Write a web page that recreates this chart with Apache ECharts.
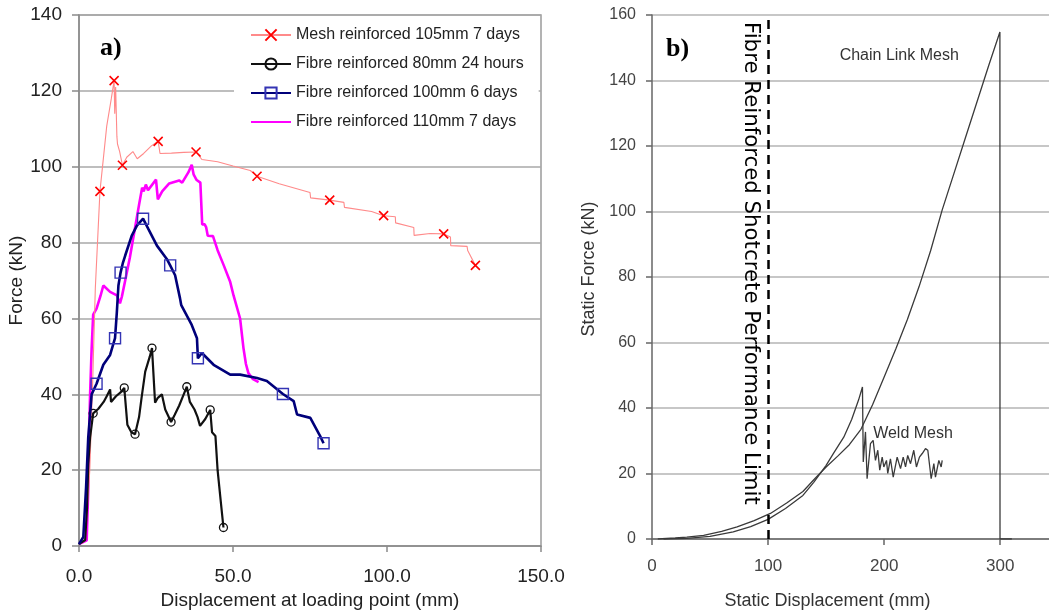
<!DOCTYPE html>
<html><head><meta charset="utf-8">
<script src="https://cdn.jsdelivr.net/npm/echarts@6/dist/echarts.min.js"></script>
<style>html,body{margin:0;padding:0;background:#fff}#c{width:1049px;height:615px}</style>
</head><body><div id="c"></div>
<script>
// ---------- Panel a) data ----------
const seriesNames = ['Mesh reinforced 105mm 7 days','Fibre reinforced 80mm 24 hours','Fibre reinforced 100mm 6 days','Fibre reinforced 110mm 7 days'];
const meshLine = [[0,0.5],[2,1.5],[3.5,20],[4.5,45],[5.3,68],[6.8,93.5],[9,110.7],[10.5,118],[11.4,122.7],[11.6,114],[11.9,121],[12.3,108],[12.5,106],[13.2,104],[14.1,100.4],[15.5,102.5],[17.5,104],[18.9,102.1],[21,103.5],[23.5,105.5],[25.7,106.7],[26.3,103.5],[30,103.6],[34,103.8],[38,103.9],[39.9,101.9],[45,101.3],[50,100.2],[55.6,99],[57.8,97.5],[65,95.5],[75,93.2],[75.2,91.8],[81.4,91.2],[86,90.6],[86.2,89.3],[95,88.2],[98.9,87.1],[102.7,86.8],[102.8,85.2],[108.7,84],[108.8,81.9],[114,82.4],[118.4,82.3],[120.6,81.5],[120.7,79.2],[126,79],[126.2,77.9],[128.7,74]];
const meshMarkers = [[6.8,93.5],[11.4,122.7],[14.1,100.4],[25.7,106.7],[38,103.9],[57.8,97.5],[81.4,91.2],[98.9,87.1],[118.4,82.3],[128.7,74]];
const fibre80Line = [[0,0.5],[2,1.6],[2.6,10],[3,21.6],[3.6,28.6],[4.6,35],[6.3,36.2],[8,38],[9,39.5],[10.1,41.3],[10.4,38],[12,39.5],[13.5,40.5],[14.7,41.7],[15.7,32],[17,30],[18.2,29.5],[19.5,34],[20.3,39],[21.5,46],[23,50],[23.7,52.2],[24.7,37.8],[25.5,39],[26.9,40],[28,36],[29.9,32.7],[31,34.5],[32.5,37],[34,40],[35,42],[36,38],[37.5,36],[38.5,34],[39.3,31.7],[41,33.5],[42.6,35.9],[43.2,30],[44.3,29],[45,20],[46,12],[46.9,4.9]];
const fibre80Markers = [[4.6,35],[14.7,41.7],[18.2,29.5],[23.7,52.2],[29.9,32.7],[35,42],[42.6,35.9],[46.9,4.9]];
const fibre100Line = [[0,0.5],[1.4,2.4],[2.3,15.5],[3,28.6],[4.1,40],[5.7,42.8],[7.9,47.8],[10.1,50.4],[11.7,54.8],[12.3,61.8],[12.8,68.7],[13.5,72.1],[14.2,74.5],[15,76.6],[17.1,81.8],[18.8,84.5],[20.8,86.3],[22.5,83.6],[25.3,79.2],[28.5,75.7],[29.6,74],[31.2,71.4],[32.8,65.3],[33.2,63.5],[36.6,58.3],[38.3,54.8],[38.6,49.5],[39.9,50.9],[43.7,47.8],[49.1,45.2],[52.3,45.2],[57.8,44.3],[61,43.5],[66.2,40.1],[69.7,38.2],[70.8,34.7],[75.1,33.8],[78.3,29],[79.4,27.1]];
const fibre100Markers = [[5.7,42.8],[11.7,54.8],[13.5,72.1],[20.8,86.3],[29.6,74],[38.6,49.5],[66.2,40.1],[79.4,27.1]];
const fibre110Line = [[0,0.5],[2.5,1.5],[3,15],[3.3,30],[3.6,40],[4.1,52],[4.6,61],[5.7,62.6],[7,66],[7.9,68.7],[8.5,68.5],[10.1,67],[12.3,66.1],[13.3,64],[13.9,65.7],[15,70],[16.5,76],[18,83],[19.5,90],[20.5,94.5],[21,93.5],[21.7,95.3],[22.4,93.8],[25,96.6],[25.6,91.4],[27,93.5],[29.3,95.6],[32.5,96.4],[33.5,95.8],[35.5,98.5],[36.6,100.5],[37.2,98],[38.2,96.5],[39.4,95.8],[40,84.8],[40.8,84.8],[41.3,84],[41.8,81.8],[43.5,81.7],[45,78],[47,74],[49.1,69.6],[50.2,66],[52.3,60],[53.4,52.2],[54.2,48],[55,45.6],[56.5,44],[58.3,43.2]];

// ---------- Panel b) data ----------
const chainLinkLine = [[5,0],[20,0.3],[30,0.6],[44.5,1.1],[60,2.3],[73.3,3.7],[88,5.6],[102,7.8],[116,11],[130,14.5],[140,18.3],[150,22],[160,25.3],[170,28.8],[180,33.5],[190,41],[200,49.5],[210,58],[220,67],[230,77],[240,88],[250,100.5],[260,111.5],[270,122.5],[280,133.5],[290,144.5],[299.7,154.8],[299.8,0],[310,0]];
const weldLine = [[10,0],[30,0.2],[50,0.8],[70,2.2],[85,3.8],[100,6],[115,9.3],[130,13.3],[139.3,17.3],[150,22.5],[156.6,26.3],[165.2,31.1],[172,36.5],[178,42.5],[181.3,46.4],[182,23.5],[183.9,32.7],[185.3,18.4],[188.2,29.1],[190.5,30.1],[192.5,24],[194.5,27.1],[196.2,21],[198.3,25],[199.7,22],[202,24],[203.1,20],[205.4,24.5],[207.8,18.9],[211.2,25],[214.1,21.5],[216.4,25],[218.4,22],[220.3,25.5],[222.7,23],[225.5,27.1],[227.8,22],[230.4,25],[232.8,26.1],[235.6,27.6],[237.6,27.1],[240.5,18.4],[242.8,23],[244.2,18.9],[247.1,24],[249.1,22],[250,24]];
const perfLimit = 100;
const perfLimitText = 'Fibre Reinforced Shotcrete Performance Limit';
const curveLabels = [{text:'Chain Link Mesh', at:[213,147.6], align:'center'},{text:'Weld Mesh', at:[190.5,32.2], align:'left'}];

function withMarkers(line, markers){
  return line.map(p => markers.some(q => q[0]===p[0] && q[1]===p[1]) ? {value:p} : {value:p, symbol:'none'});
}

const SANS = '"Liberation Sans", Arial, sans-serif';
const chart = echarts.init(document.getElementById('c'), null, {renderer:'canvas'});

const option = {
  animation:false,
  backgroundColor:'#fff',
  grid:[
    {left:79, top:15, right:508, bottom:66, show:true, borderColor:'#9a9a9a', borderWidth:1.5, backgroundColor:'transparent'},
    {left:652, top:15, right:0, bottom:76}
  ],
  legend:{
    orient:'vertical', left:234, top:20, padding:[7,15,11,16],
    backgroundColor:'#fff', itemWidth:40, itemHeight:14, itemGap:13,
    textStyle:{fontFamily:SANS, fontSize:16, color:'#222'},
    data:seriesNames
  },
  xAxis:[
    {gridIndex:0, type:'value', min:0, max:150, interval:50,
     name:'Displacement at loading point (mm)', nameLocation:'middle', nameGap:44,
     nameTextStyle:{fontFamily:SANS, fontSize:19, color:'#222'},
     axisLine:{lineStyle:{color:'#8a8a8a', width:1.5}},
     axisTick:{length:6, lineStyle:{color:'#8a8a8a', width:1.5}},
     axisLabel:{margin:21, fontFamily:SANS, fontSize:19, color:'#222', formatter:v=>v.toFixed(1)},
     splitLine:{show:false}},
    {gridIndex:1, type:'value', min:0, max:342, interval:100,
     name:'Static Displacement (mm)', nameLocation:'middle', nameGap:53,
     nameTextStyle:{fontFamily:SANS, fontSize:18, color:'#333', padding:[0,46,0,0]},
     axisLine:{lineStyle:{color:'#666', width:1.5}},
     axisTick:{length:6, lineStyle:{color:'#666', width:1.5}},
     axisLabel:{margin:19, fontFamily:SANS, fontSize:17, color:'#444', showMaxLabel:false,
       formatter:v=> (v % 100 === 0 ? String(v) : '')},
     splitLine:{show:false}}
  ],
  yAxis:[
    {gridIndex:0, type:'value', min:0, max:140, interval:20,
     name:'Force (kN)', nameLocation:'middle', nameGap:47,
     nameTextStyle:{fontFamily:SANS, fontSize:19, color:'#222'},
     axisLine:{show:true, lineStyle:{color:'#8a8a8a', width:1.5}},
     axisTick:{show:true, length:7, lineStyle:{color:'#8a8a8a', width:1.5}},
     axisLabel:{margin:17, fontFamily:SANS, fontSize:19, color:'#222'},
     splitLine:{lineStyle:{color:'#a8a8a8', width:1.5}}},
    {gridIndex:1, type:'value', min:0, max:160, interval:20,
     name:'Static Force (kN)', nameLocation:'middle', nameGap:54,
     nameTextStyle:{fontFamily:SANS, fontSize:18, color:'#333', padding:[0,0,0,16]},
     axisLine:{show:true, lineStyle:{color:'#666', width:1.5}},
     axisTick:{show:true, length:6, lineStyle:{color:'#666', width:1.5}},
     axisLabel:{margin:16, fontFamily:SANS, fontSize:16, color:'#444'},
     splitLine:{lineStyle:{color:'#b4b4b4', width:1.5}}}
  ],
  series:[
    {name:seriesNames[0], type:'line', xAxisIndex:0, yAxisIndex:0, z:3,
     data:withMarkers(meshLine, meshMarkers),
     symbol:'path://M0,0L10,10M10,0L0,10', symbolSize:9, showSymbol:true, showAllSymbol:true,
     lineStyle:{color:'#ff8a8a', width:1.1},
     itemStyle:{color:'#ff0000', borderColor:'#ff0000', borderWidth:1.6}},
    {name:seriesNames[1], type:'line', xAxisIndex:0, yAxisIndex:0, z:4,
     data:withMarkers(fibre80Line, fibre80Markers),
     symbol:'circle', symbolSize:8, showSymbol:true, showAllSymbol:true,
     lineStyle:{color:'#111', width:2.2},
     itemStyle:{color:'rgba(255,255,255,0)', borderColor:'#111', borderWidth:1.3}},
    {name:seriesNames[2], type:'line', xAxisIndex:0, yAxisIndex:0, z:5,
     data:withMarkers(fibre100Line, fibre100Markers),
     symbol:'path://M0,0H10V10H0Z', symbolSize:11, showSymbol:true, showAllSymbol:true,
     lineStyle:{color:'#00007a', width:2.6},
     itemStyle:{color:'rgba(255,255,255,0)', borderColor:'#3434b4', borderWidth:1.4}},
    {name:seriesNames[3], type:'line', xAxisIndex:0, yAxisIndex:0, z:2,
     data:fibre110Line, symbol:'circle', showSymbol:false,
     lineStyle:{color:'#ff00ff', width:2.6},
     itemStyle:{color:'rgba(0,0,0,0)', borderColor:'rgba(0,0,0,0)', borderWidth:0}},
    {name:'Chain Link Mesh', type:'line', xAxisIndex:1, yAxisIndex:1,
     data:chainLinkLine, symbol:'none', showSymbol:false,
     lineStyle:{color:'#3a3a3a', width:1.3},
     markLine:{silent:true, symbol:'none', label:{show:false},
       lineStyle:{color:'#000', type:[9,6], width:2.5},
       data:[{xAxis:perfLimit}]}},
    {name:'Weld Mesh', type:'line', xAxisIndex:1, yAxisIndex:1,
     data:weldLine, symbol:'none', showSymbol:false,
     lineStyle:{color:'#3a3a3a', width:1.3}}
  ]
};
chart.setOption(option);

const limitPx = chart.convertToPixel({xAxisIndex:1, yAxisIndex:1}, [perfLimit, 160]);
const graphics = [
  {type:'text', left:100, top:35, style:{text:'a)', font:'bold 26px "Liberation Serif", "Times New Roman", serif', fill:'#000'}},
  {type:'text', left:666, top:36, style:{text:'b)', font:'bold 26px "Liberation Serif", "Times New Roman", serif', fill:'#000'}},
  {type:'text', x:limitPx[0]-18, y:limitPx[1]+7, rotation:-Math.PI/2,
   style:{text:perfLimitText, font:'21.3px "DejaVu Sans", sans-serif', fill:'#000', align:'left', verticalAlign:'middle'}}
];
curveLabels.forEach(c => {
  const p = chart.convertToPixel({xAxisIndex:1, yAxisIndex:1}, c.at);
  graphics.push({type:'text', x:p[0], y:p[1], style:{text:c.text, font:'16px '+SANS, fill:'#333', align:c.align, verticalAlign:'middle'}});
});
chart.setOption({graphic:graphics});
</script></body></html>
